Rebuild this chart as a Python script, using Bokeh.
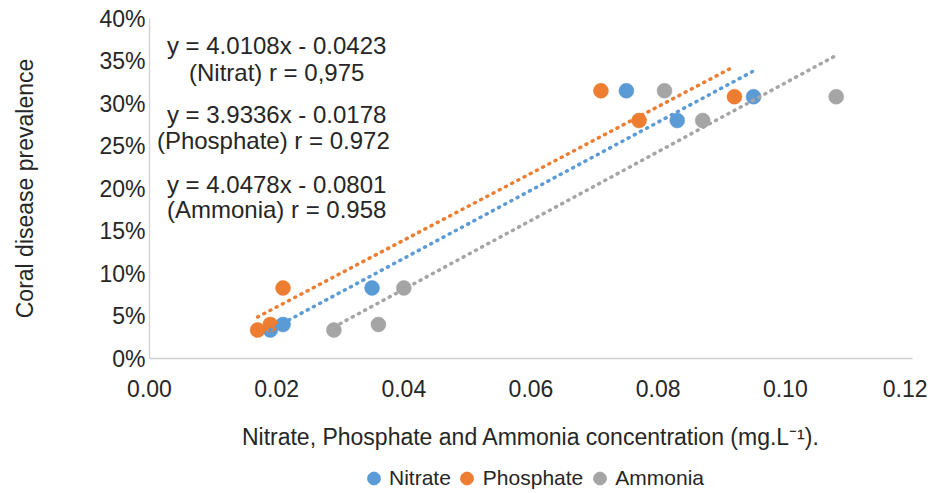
import numpy as np
from bokeh.plotting import figure
from bokeh.layouts import column
from bokeh.models import (Range1d, NumeralTickFormatter, Legend, LegendItem, FixedTicker,
                          ColumnDataSource)
from bokeh.core.properties import value
from bokeh.embed import file_html
from bokeh.resources import INLINE

# ---- data ----
prevalence = [0.0335, 0.040, 0.083, 0.315, 0.280, 0.308]
nitrate = [0.019, 0.021, 0.035, 0.075, 0.083, 0.095]
phosphate = [0.017, 0.019, 0.021, 0.071, 0.077, 0.092]
ammonia = [0.029, 0.036, 0.040, 0.081, 0.087, 0.108]

series_names = ["Nitrate", "Phosphate", "Ammonia"]
series_colors = ["#5B9BD5", "#ED7D31", "#A5A5A5"]

annotation_lines = [
    "y = 4.0108x - 0.0423",
    "(Nitrat) r = 0,975",
    "y = 3.9336x - 0.0178",
    "(Phosphate) r  = 0.972",
    "y = 4.0478x - 0.0801",
    "(Ammonia) r = 0.958",
]
annotation_y = [0.368, 0.3365, 0.287, 0.2565, 0.2047, 0.1753]
annotation_x = [0.0200] * 6

x_ticks = [0.0, 0.02, 0.04, 0.06, 0.08, 0.10, 0.12]
y_ticks = [0.0, 0.05, 0.10, 0.15, 0.20, 0.25, 0.30, 0.35, 0.40]

x_title = "Nitrate, Phosphate and Ammonia concentration (mg.L\u207b\u00b9)."
y_title = "Coral disease prevalence"

FONT = "Liberation Sans"
TXT = "#262626"

p = figure(frame_width=763, frame_height=340,
           x_range=Range1d(0, 0.12), y_range=Range1d(0, 0.40),
           output_backend="svg", toolbar_location=None,
           min_border_left=149, min_border_right=15,
           min_border_top=18, min_border_bottom=104)
p.outline_line_color = None
p.grid.visible = False
p.background_fill_color = "white"

# scatter points
scatter_renderers = []
for xs, name, col in zip([nitrate, phosphate, ammonia], series_names, series_colors):
    src = ColumnDataSource(dict(x=xs, y=prevalence))
    r = p.scatter("x", "y", source=src, size=15, marker="circle",
                  fill_color=col, line_color=col, line_width=0.5)
    scatter_renderers.append(r)

# linear trend lines (least squares fit of each series), over the data span
for xs, col in zip([nitrate, phosphate, ammonia], series_colors):
    xa = np.array(xs)
    slope, intercept = np.polyfit(xa, np.array(prevalence), 1)
    xe = [xa.min(), xa.max()]
    ye = [slope * xe[0] + intercept, slope * xe[1] + intercept]
    p.line(xe, ye, line_color=col, line_width=3.5, line_dash="1 6", line_cap="round")

# annotation text
tsrc = ColumnDataSource(dict(x=annotation_x, y=annotation_y, t=annotation_lines))
p.text("x", "y", text="t", source=tsrc, text_align="center", text_baseline="middle",
       text_font=value(FONT), text_font_size="24px", text_color=TXT)

# axes
for ax in (p.xaxis[0], p.yaxis[0]):
    ax.axis_line_color = "#D0D0D0"
    ax.axis_line_width = 1.3
    ax.major_tick_line_color = None
    ax.minor_tick_line_color = None
    ax.major_label_text_font = FONT
    ax.major_label_text_font_size = "23px"
    ax.major_label_text_color = TXT
    ax.axis_label_text_font = FONT
    ax.axis_label_text_font_style = "normal"
    ax.axis_label_text_color = TXT

p.xaxis.ticker = FixedTicker(ticks=x_ticks)
p.xaxis.formatter = NumeralTickFormatter(format="0.00")
p.xaxis.major_label_standoff = 15
p.xaxis.axis_label = x_title
p.xaxis.axis_label_text_font_size = "23px"
p.xaxis.axis_label_standoff = 24

p.yaxis.ticker = FixedTicker(ticks=y_ticks)
p.yaxis.formatter = NumeralTickFormatter(format="0%")
p.yaxis.major_label_standoff = -2
p.yaxis.axis_label = y_title
p.yaxis.axis_label_text_font_size = "23px"
p.yaxis.axis_label_standoff = 58

# legend in its own strip below the chart (one hidden sample point per series
# lets the legend draw its marker)
leg = figure(width=927, height=32, x_range=Range1d(0, 1), y_range=Range1d(0, 1),
             output_backend="svg", toolbar_location=None,
             x_axis_type=None, y_axis_type=None, min_border=0, min_border_left=109)
leg.outline_line_color = None
leg.grid.visible = False
leg_renderers = []
for col in series_colors:
    leg_renderers.append(leg.scatter(x=[5], y=[5], size=13, marker="circle",
                                     fill_color=col, line_color=col))
legend = Legend(items=[LegendItem(label=n, renderers=[r]) for n, r in zip(series_names, leg_renderers)],
                orientation="horizontal", location="center",
                border_line_color=None, background_fill_alpha=0,
                label_text_font=FONT, label_text_font_size="21px", label_text_color=TXT,
                glyph_width=32, glyph_height=32, label_standoff=0, spacing=0,
                padding=0, margin=0)
leg.add_layout(legend, "center")

layout = column(p, leg, spacing=0)
open("out.html", "w").write(file_html(layout, INLINE))
